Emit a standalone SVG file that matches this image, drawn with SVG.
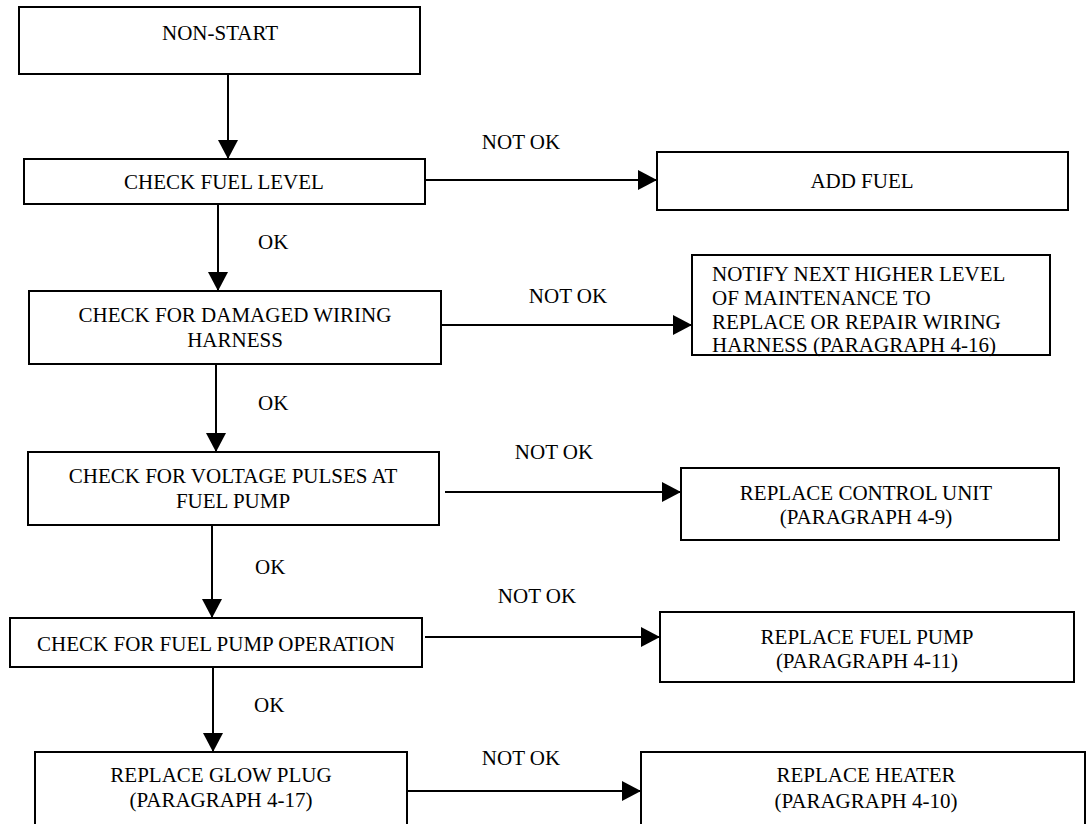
<svg xmlns="http://www.w3.org/2000/svg" width="1086" height="824" viewBox="0 0 1086 824">
<style>
.box{fill:#fff;stroke:#000;stroke-width:2}
.t{font-family:"Liberation Serif","Times New Roman",serif;font-size:21px;fill:#000;text-anchor:middle}
.l{font-family:"Liberation Serif","Times New Roman",serif;font-size:21px;fill:#000}
.c{stroke:#000;stroke-width:2;fill:none;marker-end:url(#ah)}
</style>
<defs>
<marker id="ah" markerUnits="userSpaceOnUse" markerWidth="20" markerHeight="20" refX="19" refY="10" orient="auto" viewBox="0 0 20 20">
<path d="M0,0 L19,10 L0,20 z" fill="#000"/>
</marker>
</defs>
<rect width="1086" height="824" fill="#fff"/>
<g id="connectors">
<line class="c" x1="228" y1="74" x2="228" y2="159"/>
<line class="c" x1="425" y1="180" x2="657" y2="180"/>
<line class="c" x1="218" y1="204" x2="218" y2="291"/>
<line class="c" x1="441" y1="325" x2="692" y2="325"/>
<line class="c" x1="216" y1="364" x2="216" y2="452"/>
<line class="c" x1="445" y1="492" x2="681" y2="492"/>
<line class="c" x1="212" y1="525" x2="212" y2="618"/>
<line class="c" x1="425" y1="637" x2="660" y2="637"/>
<line class="c" x1="213" y1="667" x2="213" y2="752"/>
<line class="c" x1="407" y1="791" x2="641" y2="791"/>
<text class="t" x="521" y="149">NOT OK</text>
<text class="l" x="258" y="249">OK</text>
<text class="t" x="568" y="303">NOT OK</text>
<text class="l" x="258" y="410">OK</text>
<text class="t" x="554" y="459">NOT OK</text>
<text class="l" x="255" y="574">OK</text>
<text class="t" x="537" y="603">NOT OK</text>
<text class="l" x="254" y="712">OK</text>
<text class="t" x="521" y="765">NOT OK</text>
</g>
<g id="non-start">
<rect class="box" x="19" y="7" width="401" height="67"/>
<text class="t" x="220" y="40">NON-START</text>
</g>
<g id="check-fuel-level">
<rect class="box" x="24" y="159" width="401" height="45"/>
<text class="t" x="224" y="189">CHECK FUEL LEVEL</text>
</g>
<g id="add-fuel">
<rect class="box" x="657" y="152" width="411" height="58"/>
<text class="t" x="862" y="188">ADD FUEL</text>
</g>
<g id="check-wiring">
<rect class="box" x="29" y="291" width="412" height="73"/>
<text class="t" x="235" y="322">CHECK FOR DAMAGED WIRING</text>
<text class="t" x="235" y="347">HARNESS</text>
</g>
<g id="notify">
<rect class="box" x="692" y="255" width="358" height="100"/>
<text class="l" x="712" y="281">NOTIFY NEXT HIGHER LEVEL</text>
<text class="l" x="712" y="305">OF MAINTENANCE TO</text>
<text class="l" x="712" y="329">REPLACE OR REPAIR WIRING</text>
<text class="l" x="712" y="352">HARNESS (PARAGRAPH 4-16)</text>
</g>
<g id="check-voltage">
<rect class="box" x="28" y="452" width="411" height="73"/>
<text class="t" x="233" y="483">CHECK FOR VOLTAGE PULSES AT</text>
<text class="t" x="233" y="508">FUEL PUMP</text>
</g>
<g id="control-unit">
<rect class="box" x="681" y="468" width="378" height="72"/>
<text class="t" x="866" y="500">REPLACE CONTROL UNIT</text>
<text class="t" x="866" y="524">(PARAGRAPH 4-9)</text>
</g>
<g id="check-pump">
<rect class="box" x="10" y="618" width="412" height="49"/>
<text class="t" x="216" y="651">CHECK FOR FUEL PUMP OPERATION</text>
</g>
<g id="replace-pump">
<rect class="box" x="660" y="612" width="414" height="70"/>
<text class="t" x="867" y="644">REPLACE FUEL PUMP</text>
<text class="t" x="867" y="668">(PARAGRAPH 4-11)</text>
</g>
<g id="glow-plug">
<rect class="box" x="35" y="752" width="372" height="90"/>
<text class="t" x="221" y="782">REPLACE GLOW PLUG</text>
<text class="t" x="221" y="807">(PARAGRAPH 4-17)</text>
</g>
<g id="heater">
<rect class="box" x="641" y="752" width="444" height="90"/>
<text class="t" x="866" y="782">REPLACE HEATER</text>
<text class="t" x="866" y="808">(PARAGRAPH 4-10)</text>
</g>
</svg>
